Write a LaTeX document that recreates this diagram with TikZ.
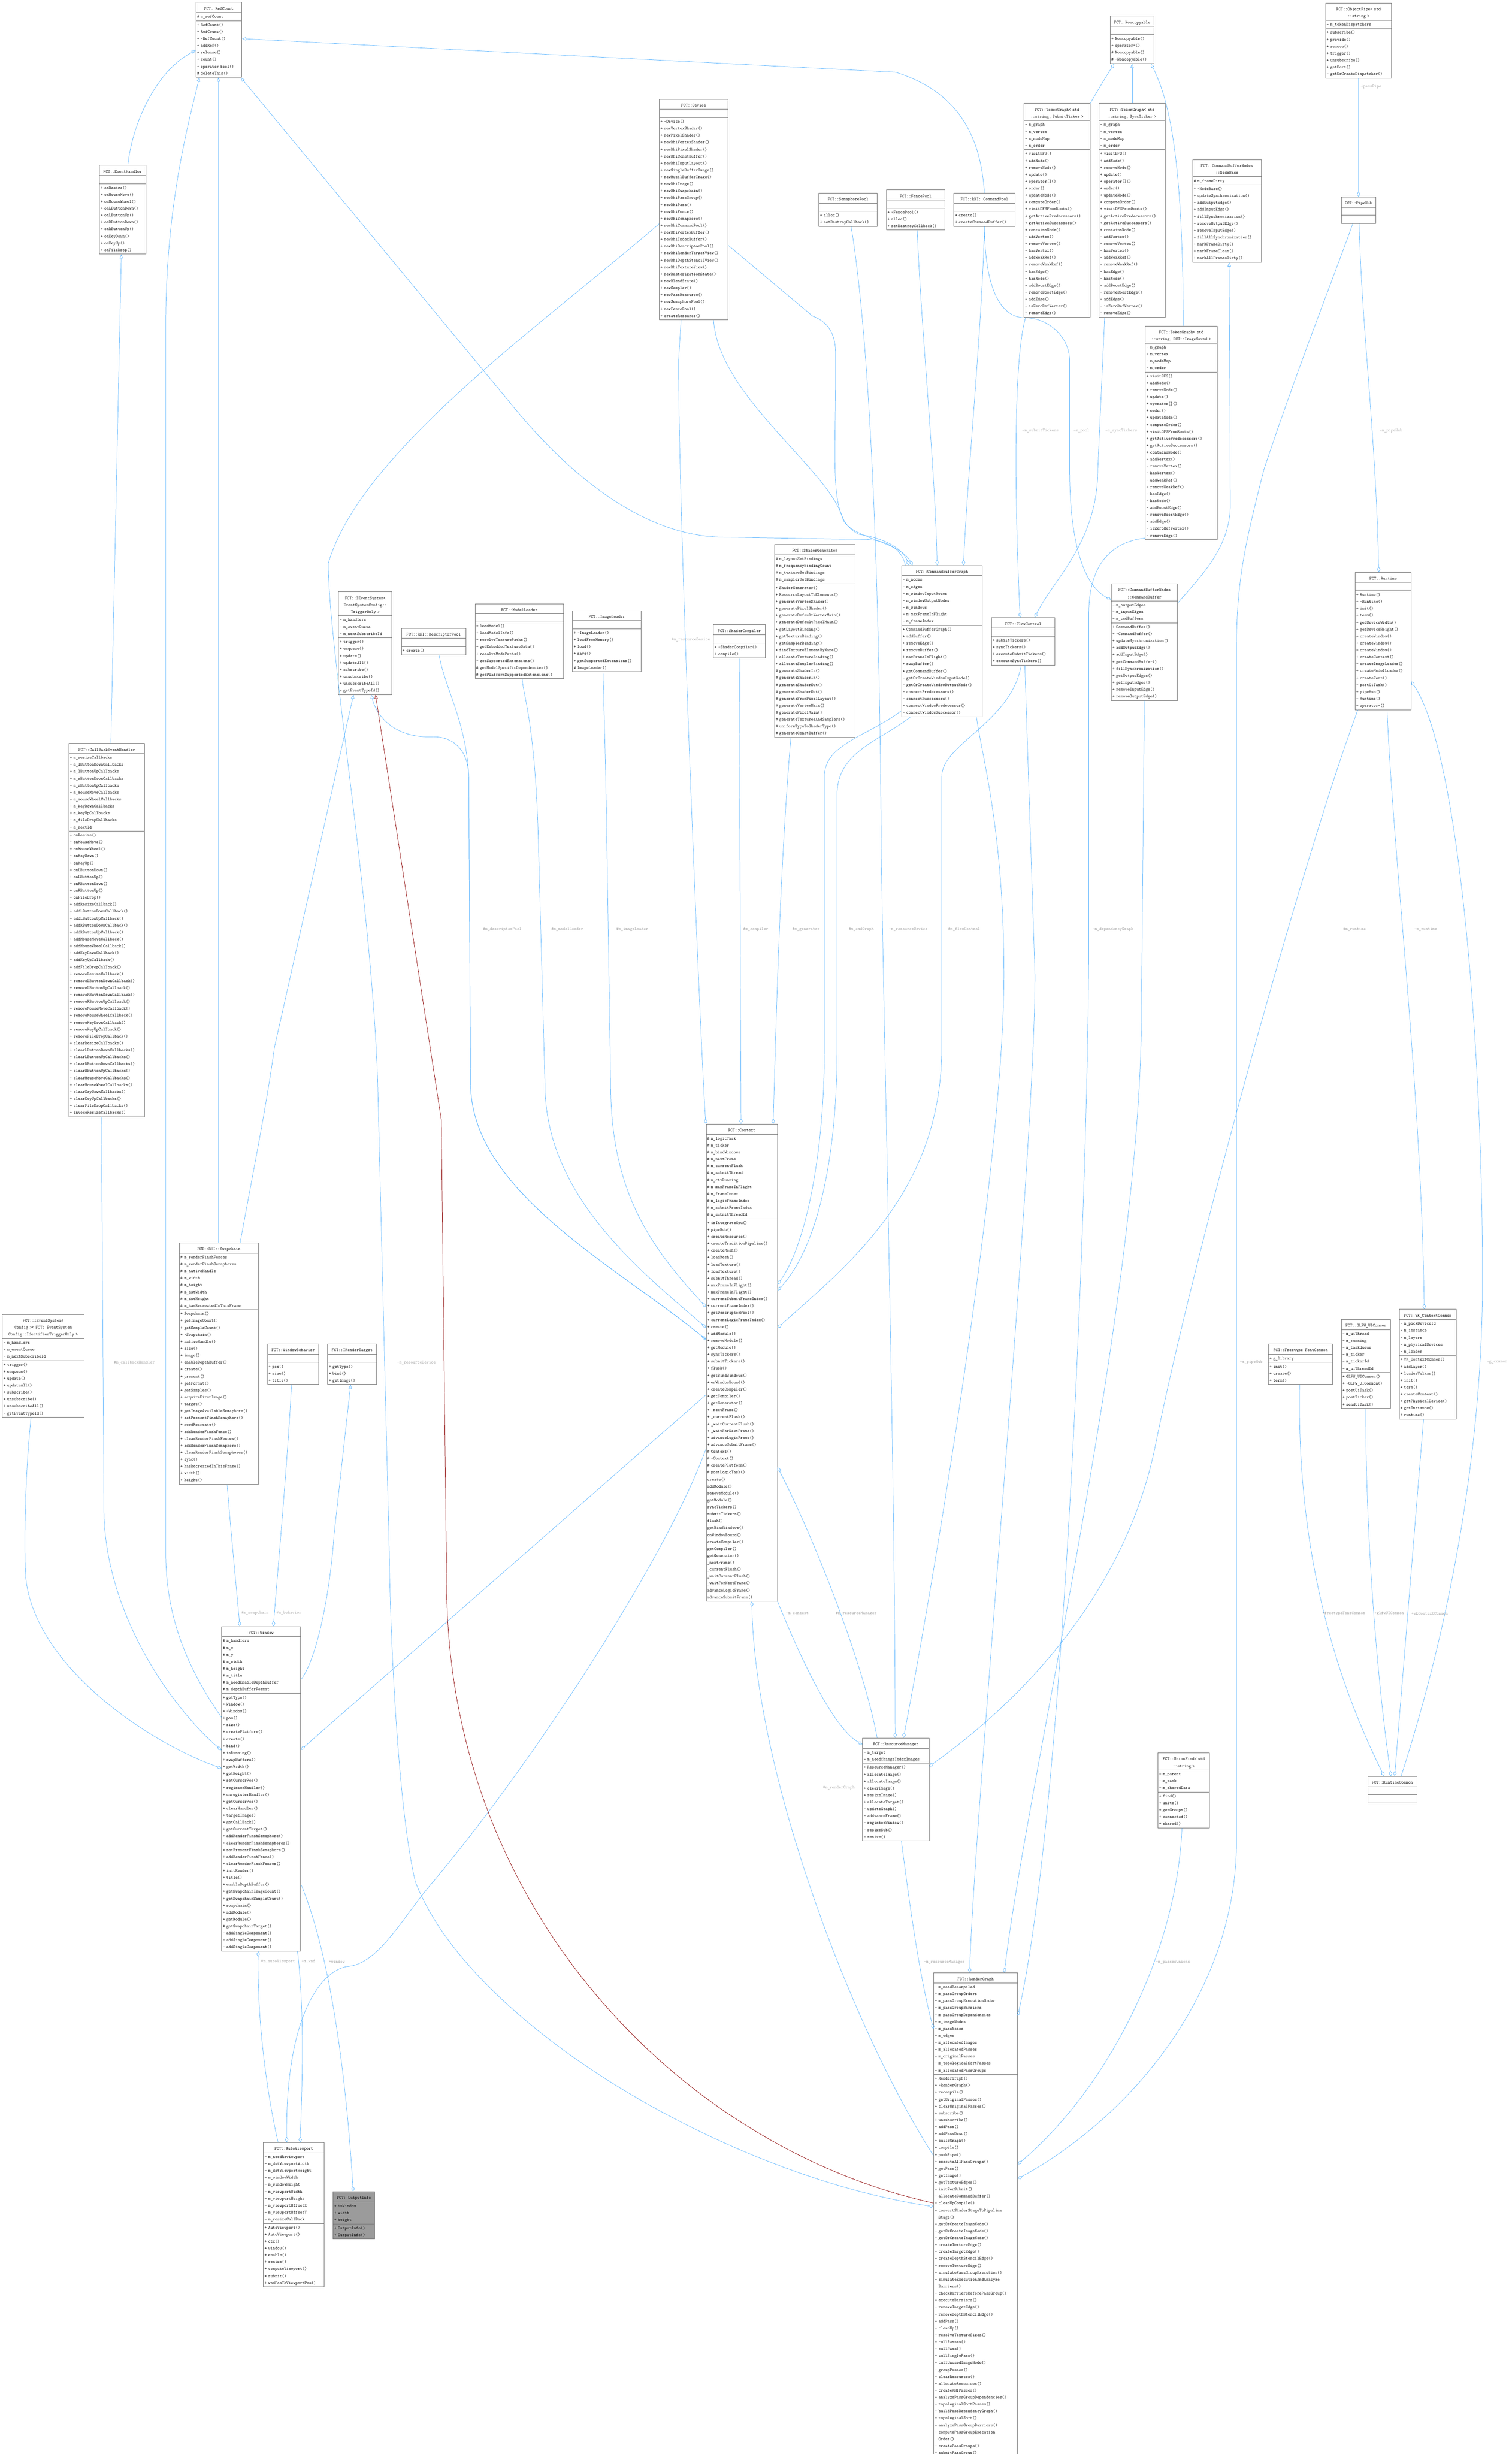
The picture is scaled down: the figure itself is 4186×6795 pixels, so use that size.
\documentclass[tikz,border=0pt]{standalone}
\usepackage{fontspec}
\usetikzlibrary{shapes.multipart,arrows.meta}
\definecolor{edgeblue}{HTML}{63B8FF}
\definecolor{boxgray}{HTML}{7A7A7A}
\definecolor{labelgray}{HTML}{A0A0A0}
\definecolor{privred}{HTML}{8B0000}
\definecolor{focusgray}{HTML}{9B9B9B}
\newcommand{\rowfont}{\fontsize{12.2}{19.2}\selectfont\ttfamily}
\newcommand{\rows}[1]{\raggedright\strut#1\strut}
\newcommand{\ttl}[1]{\par\hbox to \hsize{\hfil\strut#1\hfil}}
\newcommand{\tld}{\textasciitilde}
\newcommand{\tgattrs}{\rows{- m\_graph\\- m\_vertex\\- m\_nodeMap\\- m\_order}}
\newcommand{\tgmeths}{\rows{+ visitBFS()\\+ addNode()\\+ removeNode()\\+ update()\\+ operator[]()\\+ order()\\+ updateNode()\\+ computeOrder()\\+ visitDFSFromRoots()\\+ getActivePredecessors()\\+ getActiveSuccessors()\\+ containsNode()\\- addVertex()\\- removeVertex()\\- hasVertex()\\- addWeakRef()\\- removeWeakRef()\\- hasEdge()\\- hasNode()\\- addBoostEdge()\\- removeBoostEdge()\\- addEdge()\\- isZeroRefVertex()\\- removeEdge()}}
\begin{document}
\begin{tikzpicture}[x=1pt, y=-1pt, line join=round,
    cls/.style={rectangle split, rectangle split parts=3,
      draw=boxgray, line width=1.3pt, fill=white, anchor=north west, inner xsep=3pt, inner ysep=1pt, font=\rowfont},
    focus/.style={cls, fill=focusgray},
    con/.style={draw=edgeblue, line width=1pt},
    inh/.style={con, -{Triangle[open, length=11pt, width=9pt]}},
    agg/.style={con, {Diamond[open, length=15pt, width=9pt]}-},
    priv/.style={draw=privred, line width=1pt, -{Triangle[open, length=11pt, width=9pt]}},
    lbl/.style={font=\rowfont, text=labelgray, inner sep=0pt}]
\useasboundingbox (0,0) rectangle (4186,6795);

% classes
\node[cls, text width=121pt] (refcount) at (542,6) {\ttl{FCT::RefCount}\nodepart{two}\rows{\# m\_refCount}\nodepart{three}\rows{+ RefCount()\\+ RefCount()\\+ \tld RefCount()\\+ addRef()\\+ release()\\+ count()\\+ operator bool()\\\# deleteThis()}};
\node[cls, text width=122pt] (evthandler) at (275,457) {\ttl{FCT::EventHandler}\nodepart{two}\rows{}\nodepart{three}\rows{+ onResize()\\+ onMouseMove()\\+ onMouseWheel()\\+ onLButtonDown()\\+ onLButtonUp()\\+ onRButtonDown()\\+ onRButtonUp()\\+ onKeyDown()\\+ onKeyUp()\\+ onFileDrop()}};
\node[cls, text width=204pt] (callback) at (190,2058) {\ttl{FCT::CallBackEventHandler}\nodepart{two}\rows{- m\_resizeCallbacks\\- m\_lButtonDownCallbacks\\- m\_lButtonUpCallbacks\\- m\_rButtonDownCallbacks\\- m\_rButtonUpCallbacks\\- m\_mouseMoveCallbacks\\- m\_mouseWheelCallbacks\\- m\_keyDownCallbacks\\- m\_keyUpCallbacks\\- m\_fileDropCallbacks\\- m\_nextId}\nodepart{three}\rows{+ onResize()\\+ onMouseMove()\\+ onMouseWheel()\\+ onKeyDown()\\+ onKeyUp()\\+ onLButtonDown()\\+ onLButtonUp()\\+ onRButtonDown()\\+ onRButtonUp()\\+ onFileDrop()\\+ addResizeCallback()\\+ addLButtonDownCallback()\\+ addLButtonUpCallback()\\+ addRButtonDownCallback()\\+ addRButtonUpCallback()\\+ addMouseMoveCallback()\\+ addMouseWheelCallback()\\+ addKeyDownCallback()\\+ addKeyUpCallback()\\+ addFileDropCallback()\\+ removeResizeCallback()\\+ removeLButtonDownCallback()\\+ removeLButtonUpCallback()\\+ removeRButtonDownCallback()\\+ removeRButtonUpCallback()\\+ removeMouseMoveCallback()\\+ removeMouseWheelCallback()\\+ removeKeyDownCallback()\\+ removeKeyUpCallback()\\+ removeFileDropCallback()\\+ clearResizeCallbacks()\\+ clearLButtonDownCallbacks()\\+ clearLButtonUpCallbacks()\\+ clearRButtonDownCallbacks()\\+ clearRButtonUpCallbacks()\\+ clearMouseMoveCallbacks()\\+ clearMouseWheelCallbacks()\\+ clearKeyDownCallbacks()\\+ clearKeyUpCallbacks()\\+ clearFileDropCallbacks()\\+ invokeResizeCallbacks()}};
\node[cls, text width=142pt] (ievtTrig) at (937,1638) {\ttl{FCT::IEventSystem<}\ttl{EventSystemConfig::}\ttl{TriggerOnly >}\nodepart{two}\rows{- m\_handlers\\- m\_eventQueue\\- m\_nextSubscribeId}\nodepart{three}\rows{+ trigger()\\+ enqueue()\\+ update()\\+ updateAll()\\+ subscribe()\\+ unsubscribe()\\+ unsubscribeAll()\\- getEventTypeId()}};
\node[cls, text width=172pt] (descPool) at (1111,1739) {\ttl{FCT::RHI::DescriptorPool}\nodepart{two}\rows{}\nodepart{three}\rows{+ create()}};
\node[cls, text width=239pt] (modelLoader) at (1315,1671) {\ttl{FCT::ModelLoader}\nodepart{two}\rows{}\nodepart{three}\rows{+ loadModel()\\+ loadModelInfo()\\+ resolveTexturePaths()\\+ getEmbeddedTextureData()\\+ resolveModePaths()\\+ getSupportedExtensions()\\\# getModelSpecificDependencies()\\\# getPlatformSupportedExtensions()}};
\node[cls, text width=184pt] (imageLoader) at (1585,1690) {\ttl{FCT::ImageLoader}\nodepart{two}\rows{}\nodepart{three}\rows{+ \tld ImageLoader()\\+ loadFromMemory()\\+ load()\\+ save()\\+ getSupportedExtensions()\\\# ImageLoader()}};
\node[cls, text width=184pt] (device) at (1825,274) {\ttl{FCT::Device}\nodepart{two}\rows{}\nodepart{three}\rows{+ \tld Device()\\+ newVertexShader()\\+ newPixelShader()\\+ newRhiVertexShader()\\+ newRhiPixelShader()\\+ newRhiConstBuffer()\\+ newRhiInputLayout()\\+ newSingleBufferImage()\\+ newMutilBufferImage()\\+ newRhiImage()\\+ newRhiSwapchain()\\+ newRhiPassGroup()\\+ newRhiPass()\\+ newRhiFence()\\+ newRhiSemaphore()\\+ newRhiCommandPool()\\+ newRhiVertexBuffer()\\+ newRhiIndexBuffer()\\+ newRhiDescriptorPool()\\+ newRhiRenderTargetView()\\+ newRhiDepthStencilView()\\+ newRhiTextureView()\\+ newRasterizationState()\\+ newBlendState()\\+ newSampler()\\+ newPassResource()\\+ newSemaphorePool()\\+ newFencePool()\\+ createResource()}};
\node[cls, text width=156pt] (semPool) at (2267,534) {\ttl{FCT::SemaphorePool}\nodepart{two}\rows{}\nodepart{three}\rows{+ alloc()\\+ setDestroyCallback()}};
\node[cls, text width=156pt] (fencePool) at (2454,525) {\ttl{FCT::FencePool}\nodepart{two}\rows{}\nodepart{three}\rows{+ \tld FencePool()\\+ alloc()\\+ setDestroyCallback()}};
\node[cls, text width=163pt] (cmdPool) at (2641,534) {\ttl{FCT::RHI::CommandPool}\nodepart{two}\rows{}\nodepart{three}\rows{+ create()\\+ createCommandBuffer()}};
\node[cls, text width=177pt] (tgSubmit) at (2835,286) {\ttl{FCT::TokenGraph< std}\ttl{::string, SubmitTicker >}\nodepart{two}\tgattrs\nodepart{three}\tgmeths};
\node[cls, text width=177pt] (tgSync) at (3043,286) {\ttl{FCT::TokenGraph< std}\ttl{::string, SyncTicker >}\nodepart{two}\tgattrs\nodepart{three}\tgmeths};
\node[cls, text width=193pt] (tgImage) at (3171,902) {\ttl{FCT::TokenGraph< std}\ttl{::string, FCT::ImageSaved >}\nodepart{two}\tgattrs\nodepart{three}\tgmeths};
\node[cls, text width=115pt] (noncopy) at (3074,44) {\ttl{FCT::Noncopyable}\nodepart{two}\rows{}\nodepart{three}\rows{+ Noncopyable()\\+ operator=()\\\# Noncopyable()\\\# \tld Noncopyable()}};
\node[cls, text width=184pt] (nodeBase) at (3302,441) {\ttl{FCT::CommandBufferNodes}\ttl{::NodeBase}\nodepart{two}\rows{\# m\_frameDirty}\nodepart{three}\rows{+ \tld NodeBase()\\+ updateSynchronization()\\+ addOutputEdge()\\+ addInputEdge()\\+ fillSynchronization()\\+ removeOutputEdge()\\+ removeInputEdge()\\+ fillAllSynchronization()\\+ markFrameDirty()\\+ markFrameClean()\\+ markAllFramesDirty()}};
\node[cls, text width=177pt] (objPipe) at (3670,8) {\ttl{FCT::ObjectPipe< std}\ttl{::string >}\nodepart{two}\rows{- m\_tokenDispatchers}\nodepart{three}\rows{+ subscribe()\\+ provide()\\+ remove()\\+ trigger()\\+ unsubscribe()\\+ getPort()\\- getOrCreateDispatcher()}};
\node[cls, text width=89pt] (pipeHub) at (3714,545) {\ttl{FCT::PipeHub}\nodepart{two}\rows{}\nodepart{three}\rows{}};
\node[cls, text width=137pt] (shaderComp) at (1975,1729) {\ttl{FCT::ShaderCompiler}\nodepart{two}\rows{}\nodepart{three}\rows{+ \tld ShaderCompiler()\\+ compile()}};
\node[cls, text width=218pt] (shaderGen) at (2144,1507) {\ttl{FCT::ShaderGenerator}\nodepart{two}\rows{\# m\_layoutSetBindings\\\# m\_frequencyBindingCount\\\# m\_textureSetBindings\\\# m\_samplerSetBindings}\nodepart{three}\rows{+ ShaderGenerator()\\+ ResourceLayoutToElements()\\+ generateVertexShader()\\+ generatePixelShader()\\+ generateDefaultVertexMain()\\+ generateDefaultPixelMain()\\+ getLayoutBinding()\\+ getTextureBinding()\\+ getSamplerBinding()\\+ findTextureElementByName()\\+ allocateTextureBinding()\\+ allocateSamplerBinding()\\\# generateShaderIn()\\\# generateShaderIn()\\\# generateShaderOut()\\\# generateShaderOut()\\\# generateFromPixelLayout()\\\# generateVertexMain()\\\# generatePixelMain()\\\# generateTexturesAndSamplers()\\\# uniformTypeToShaderType()\\\# generateConstBuffer()}};
\node[cls, text width=218pt] (cmdGraph) at (2496,1565) {\ttl{FCT::CommandBufferGraph}\nodepart{two}\rows{- m\_nodes\\- m\_edges\\- m\_windowInputNodes\\- m\_windowOutputNodes\\- m\_windows\\- m\_maxFrameInFlight\\- m\_frameIndex}\nodepart{three}\rows{+ CommandBufferGraph()\\+ addBuffer()\\+ removeEdge()\\+ removeBuffer()\\+ maxFrameInFlight()\\+ swapBuffer()\\+ getCommandBuffer()\\- getOrCreateWindowInputNode()\\- getOrCreateWindowOutputNode()\\- connectPredecessors()\\- connectSuccessors()\\- connectWindowPredecessor()\\- connectWindowSuccessor()}};
\node[cls, text width=170pt] (flowCtrl) at (2745,1710) {\ttl{FCT::FlowControl}\nodepart{two}\rows{}\nodepart{three}\rows{+ submitTickers()\\+ syncTickers()\\+ executeSubmitTickers()\\+ executeSyncTickers()}};
\node[cls, text width=177pt] (cmdBuffer) at (3077,1616) {\ttl{FCT::CommandBufferNodes}\ttl{::CommandBuffer}\nodepart{two}\rows{- m\_outputEdges\\- m\_inputEdges\\- m\_cmdBuffers}\nodepart{three}\rows{+ CommandBuffer()\\+ \tld CommandBuffer()\\+ updateSynchronization()\\+ addOutputEdge()\\+ addInputEdge()\\+ getCommandBuffer()\\+ fillSynchronization()\\+ getOutputEdges()\\+ getInputEdges()\\+ removeInputEdge()\\+ removeOutputEdge()}};
\node[cls, text width=149pt] (runtime) at (3752,1584) {\ttl{FCT::Runtime}\nodepart{two}\rows{}\nodepart{three}\rows{+ Runtime()\\+ \tld Runtime()\\+ init()\\+ term()\\+ getDeviceWidth()\\+ getDeviceHeight()\\+ createWindow()\\+ createWindow()\\+ createWindow()\\+ createContext()\\+ createImageLoader()\\+ createModelLoader()\\+ createFont()\\+ postUiTask()\\+ pipeHub()\\- Runtime()\\- operator=()}};
\node[cls, text width=191pt] (context) at (1955,3112) {\ttl{FCT::Context}\nodepart{two}\rows{\# m\_logicTask\\\# m\_ticker\\\# m\_bindWindows\\\# m\_nextFrame\\\# m\_currentFlush\\\# m\_submitThread\\\# m\_ctxRunning\\\# m\_maxFrameInFlight\\\# m\_frameIndex\\\# m\_logicFrameIndex\\\# m\_submitFrameIndex\\\# m\_submitThreadId}\nodepart{three}\rows{+ isIntegrateGpu()\\+ pipeHub()\\+ createResource()\\+ createTraditionPipeline()\\+ createMesh()\\+ loadMesh()\\+ loadTexture()\\+ loadTexture()\\+ submitThread()\\+ maxFrameInFlight()\\+ maxFrameInFlight()\\+ currentSubmitFrameIndex()\\+ currentFrameIndex()\\+ getDescriptorPool()\\+ currentLogicFrameIndex()\\+ create()\\+ addModule()\\+ removeModule()\\+ getModule()\\+ syncTickers()\\+ submitTickers()\\+ flush()\\+ getBindWindows()\\+ onWindowBound()\\+ createCompiler()\\+ getCompiler()\\+ getGenerator()\\+ \_nextFrame()\\+ \_currentFlush()\\+ \_waitCurrentFlush()\\+ \_waitForNextFrame()\\+ advanceLogicFrame()\\+ advanceSubmitFrame()\\\# Context()\\\# \tld Context()\\\# createPlatform()\\\# postLogicTask()\\* create()\\* addModule()\\* removeModule()\\* getModule()\\* syncTickers()\\* submitTickers()\\* flush()\\* getBindWindows()\\* onWindowBound()\\* createCompiler()\\* getCompiler()\\* getGenerator()\\* \_nextFrame()\\* \_currentFlush()\\* \_waitCurrentFlush()\\* \_waitForNextFrame()\\* advanceLogicFrame()\\* advanceSubmitFrame()}};
\node[cls, text width=220pt] (ievtCfg) at (6,3639) {\ttl{FCT::IEventSystem<}\ttl{Config >< FCT::EventSystem}\ttl{Config::IdentifierTriggerOnly >}\nodepart{two}\rows{- m\_handlers\\- m\_eventQueue\\- m\_nextSubscribeId}\nodepart{three}\rows{+ trigger()\\+ enqueue()\\+ update()\\+ updateAll()\\+ subscribe()\\+ unsubscribe()\\+ unsubscribeAll()\\- getEventTypeId()}};
\node[cls, text width=213pt] (swapchain) at (496,3441) {\ttl{FCT::RHI::Swapchain}\nodepart{two}\rows{\# m\_renderFinshFences\\\# m\_renderFinshSemaphores\\\# m\_nativeHandle\\\# m\_width\\\# m\_height\\\# m\_dstWidth\\\# m\_dstHeight\\\# m\_hasRecreatedInThisFrame}\nodepart{three}\rows{+ Swapchain()\\+ getImageCount()\\+ getSampleCount()\\+ \tld Swapchain()\\+ nativeHandle()\\+ size()\\+ image()\\+ enableDepthBuffer()\\+ create()\\+ present()\\+ getFormat()\\+ getSamples()\\+ acquireFirstImage()\\+ target()\\+ getImageAvailableSemaphore()\\+ setPresentFinshSemaphore()\\+ needRecreate()\\+ addRenderFinshFence()\\+ clearRenderFinshFences()\\+ addRenderFinshSemaphore()\\+ clearRenderFinshSemaphores()\\+ sync()\\+ hasRecreatedInThisFrame()\\+ width()\\+ height()}};
\node[cls, text width=136pt] (wndBehavior) at (740,3721) {\ttl{FCT::WindowBehavior}\nodepart{two}\rows{}\nodepart{three}\rows{+ pos()\\+ size()\\+ title()}};
\node[cls, text width=129pt] (renderTarget) at (907,3721) {\ttl{FCT::IRenderTarget}\nodepart{two}\rows{}\nodepart{three}\rows{+ getType()\\+ bind()\\+ getImage()}};
\node[cls, text width=213pt] (window) at (613,4503) {\ttl{FCT::Window}\nodepart{two}\rows{\# m\_handlers\\\# m\_x\\\# m\_y\\\# m\_width\\\# m\_height\\\# m\_title\\\# m\_needEnableDepthBuffer\\\# m\_depthBufferFormat}\nodepart{three}\rows{+ getType()\\+ Window()\\+ \tld Window()\\+ pos()\\+ size()\\+ createPlatform()\\+ create()\\+ bind()\\+ isRunning()\\+ swapBuffers()\\+ getWidth()\\+ getHeight()\\+ setCursorPos()\\+ registerHandler()\\+ unregisterHandler()\\+ getCursorPos()\\+ clearHandler()\\+ targetImage()\\+ getCallBack()\\+ getCurrentTarget()\\+ addRenderFinshSemaphore()\\+ clearRenderFinshSemaphores()\\+ setPresentFinshSemaphore()\\+ addRenderFinshFence()\\+ clearRenderFinshFences()\\+ initRender()\\+ title()\\+ enableDepthBuffer()\\+ getSwapchainImageCount()\\+ getSwapchainSampleCount()\\+ swapchain()\\+ addModule()\\+ getModule()\\\# getSwapchainTarget()\\- addSingleComponent()\\- addSingleComponent()\\- addSingleComponent()}};
\node[cls, text width=162pt] (autoViewport) at (729,5932) {\ttl{FCT::AutoViewport}\nodepart{two}\rows{- m\_needReviewport\\- m\_dstViewportWidth\\- m\_dstViewportHeight\\- m\_windowWidth\\- m\_windowHeight\\- m\_viewportWidth\\- m\_viewportHeight\\- m\_viewportOffsetX\\- m\_viewportOffsetY\\- m\_resizeCallBack}\nodepart{three}\rows{+ AutoViewport()\\+ AutoViewport()\\+ ctx()\\+ window()\\+ enable()\\+ resize()\\+ computeViewport()\\+ submit()\\+ wndPosToViewportPos()}};
\node[focus, text width=109pt] (outputInfo) at (922,6068) {\ttl{FCT::OutputInfo}\nodepart{two}\rows{+ isWindow\\+ width\\+ height}\nodepart{three}\rows{+ OutputInfo()\\+ OutputInfo()}};
\node[cls, text width=172pt] (freetype) at (3512,3721) {\ttl{FCT::Freetype\_FontCommon}\nodepart{two}\rows{+ g\_library}\nodepart{three}\rows{+ init()\\+ create()\\+ term()}};
\node[cls, text width=130pt] (glfwUI) at (3714,3653) {\ttl{FCT::GLFW\_UICommon}\nodepart{two}\rows{- m\_uiThread\\- m\_running\\- m\_taskQueue\\- m\_ticker\\- m\_tickerId\\- m\_uiThreadId}\nodepart{three}\rows{+ GLFW\_UICommon()\\+ \tld GLFW\_UICommon()\\+ postUiTask()\\+ postTicker()\\+ sendUiTask()}};
\node[cls, text width=152pt] (vkCtx) at (3874,3625) {\ttl{FCT::VK\_ContextCommon}\nodepart{two}\rows{- m\_pickDeviceId\\- m\_instance\\- m\_layers\\- m\_physicalDevices\\- m\_loader}\nodepart{three}\rows{+ VK\_ContextCommon()\\+ addLayer()\\+ loaderVulkan()\\+ init()\\+ term()\\+ createContext()\\+ getPhysicalDevice()\\+ getInstance()\\+ runtime()}};
\node[cls, text width=178pt] (resMgr) at (2388,4812) {\ttl{FCT::ResourceManager}\nodepart{two}\rows{- m\_target\\- m\_needChangeIndexImages}\nodepart{three}\rows{+ ResourceManager()\\+ allocateImage()\\+ allocateImage()\\+ clearImage()\\+ resizeImage()\\+ allocateTarget()\\- updateGraph()\\- addvanceFrame()\\- registerWindow()\\- resizeSub()\\- resize()}};
\node[cls, text width=226pt] (renderGraph) at (2585,5462) {\ttl{FCT::RenderGraph}\nodepart{two}\rows{- m\_needRecompiled\\- m\_passGroupOrders\\- m\_passGroupExecutionOrder\\- m\_passGroupBarriers\\- m\_passGroupDependencies\\- m\_imageNodes\\- m\_passNodes\\- m\_edges\\- m\_allocatedImages\\- m\_allocatedPasses\\- m\_originalPasses\\- m\_topologicalSortPasses\\- m\_allocatedPassGroups}\nodepart{three}\rows{+ RenderGraph()\\+ \tld RenderGraph()\\+ recompile()\\+ getOriginalPasses()\\+ clearOriginalPasses()\\+ subscribe()\\+ unsubscribe()\\+ addPass()\\+ addPassDesc()\\+ buildGraph()\\+ compile()\\+ pushPipe()\\+ executeAllPassGroups()\\+ getPass()\\+ getImage()\\+ getTextureEdges()\\- initForSubmit()\\- allocateCommandBuffer()\\- cleanUpCompile()\\- convertShaderStageToPipeline\\\hphantom{- }Stage()\\- getOrCreateImageNode()\\- getOrCreateImageNode()\\- getOrCreateImageNode()\\- createTextureEdge()\\- createTargetEdge()\\- createDepthStencilEdge()\\- removeTextureEdge()\\- simulatePassGroupExecution()\\- simulateExecutionAndAnalyze\\\hphantom{- }Barriers()\\- checkBarriersBeforePassGroup()\\- executeBarriers()\\- removeTargetEdge()\\- removeDepthStencilEdge()\\- addPass()\\- cleanUp()\\- resolveTextureSizes()\\- cullPasses()\\- cullPass()\\- cullSinglePass()\\- cullUnusedImageNode()\\- groupPasses()\\- clearResources()\\- allocateResources()\\- createRHIPasses()\\- analyzePassGroupDependencies()\\- topologicalSortPasses()\\- buildPassDependencyGraph()\\- topologicalSort()\\- analyzePassGroupBarriers()\\- computePassGroupExecution\\\hphantom{- }Order()\\- createPassGroups()\\- submitPassGroup()}};
\node[cls, text width=137pt] (unionFind) at (3206,4853) {\ttl{FCT::UnionFind< std}\ttl{::string >}\nodepart{two}\rows{- m\_parent\\- m\_rank\\- m\_sharedData}\nodepart{three}\rows{+ find()\\+ unite()\\+ getGroups()\\+ connected()\\+ shared()}};
\node[cls, text width=130pt] (runtimeCommon) at (3787,4918) {\ttl{FCT::RuntimeCommon}\nodepart{two}\rows{}\nodepart{three}\rows{}};

% inheritance
\draw[inh] ([xshift=79pt]evthandler.north west) .. controls (368,330) and (440,190) .. ([yshift=-134pt]refcount.north west);
\draw[inh] ([xshift=117pt]callback.north west) -- ([xshift=61pt]evthandler.south west);
\draw[inh] ([yshift=-252pt]window.north west) .. controls (520,4620) and (459,4480) .. (459,4300) -- (459,900) .. controls (459,560) and (525,330) .. ([xshift=10pt]refcount.south west);
\draw[inh] ([xshift=109pt]swapchain.north west) -- ([xshift=63pt]refcount.south west);
\draw[inh] ([xshift=11pt]cmdGraph.north west) .. controls (2500,1530) and (2470,1497) .. (2400,1494) -- (1990,1487) .. controls (1800,1480) and (1600,1350) .. (1400,1100) -- ([xshift=125pt]refcount.south west);
\draw[inh] ([xshift=85pt]cmdPool.north west) .. controls (2715,360) and (2640,250) .. (2480,200) -- ([yshift=-101pt]refcount.north east);
\draw[inh] (tgSubmit.north east) .. controls (3040,250) and (3070,200) .. ([xshift=12pt]noncopy.south west);
\draw[inh] ([xshift=92pt]tgSync.north west) -- ([xshift=61pt]noncopy.south west);
\draw[inh] ([xshift=106pt]tgImage.north west) .. controls (3275,500) and (3250,300) .. ([xshift=113pt]noncopy.south west);
\draw[inh] ([yshift=-54pt]cmdBuffer.north east) .. controls (3320,1600) and (3406,1520) .. (3407,1400) -- ([xshift=102pt]nodeBase.south west);
\draw[inh] ([yshift=-148pt]window.north east) .. controls (880,4590) and (915,4400) .. (925,4250) -- ([xshift=64pt]renderTarget.south west);
\draw[inh] ([xshift=169pt]swapchain.north west) .. controls (700,3250) and (740,3050) .. (760,2900) -- ([xshift=42pt]ievtTrig.south west);
\draw[inh] ([yshift=-597pt]context.north west) .. controls (1700,3500) and (1305,3300) .. (1303,3000) -- (1298,2150) .. controls (1296,2070) and (1250,2040) .. (1200,2040) .. controls (1100,2045) and (1045,1990) .. ([xshift=91pt]ievtTrig.south west);
\draw[priv] ([yshift=-638pt]renderGraph.north west) .. controls (1900,5950) and (1245,5300) .. (1237,4400) -- (1222,3100) -- ([xshift=103pt]ievtTrig.south west);

% members
\draw[agg] ([yshift=-648pt]renderGraph.north west) .. controls (2000,6020) and (1300,5600) .. (1150,5210) .. controls (1100,5000) and (1080,4500) .. (1078,4300) -- (1046,3000) .. controls (1030,2500) and (910,1800) .. (909,1560) .. controls (1000,1250) and (1500,900) .. ([yshift=-346pt]device.north west);
\draw[agg] (context.north west) .. controls (1945,3000) and (1880,1500) .. (1879,1000) -- ([xshift=61pt]device.south west);
\draw[agg] ([xshift=21pt]cmdGraph.north west) .. controls (2500,1520) and (2450,1490) .. (2380,1480) .. controls (2290,1440) and (2316,1300) .. (2314,980) .. controls (2314,920) and (2290,890) .. (2250,875) -- ([yshift=-405pt]device.north east);
\draw[agg] ([xshift=31pt]cmdGraph.north west) .. controls (2490,1500) and (2360,1490) .. (2335,1440) .. controls (2300,1300) and (1990,1100) .. ([xshift=151pt]device.south west);
\draw[agg] ([xshift=99pt]cmdGraph.north west) .. controls (2590,1300) and (2550,900) .. ([xshift=86pt]fencePool.south west);
\draw[agg] ([xshift=172pt]cmdGraph.north west) .. controls (2680,1300) and (2720,900) .. ([xshift=85pt]cmdPool.south west);
\draw[agg] ([xshift=91pt]resMgr.north west) .. controls (2478,4000) and (2445,2800) .. (2440,2300) .. controls (2435,1600) and (2410,950) .. ([xshift=90pt]semPool.south west);
\draw[agg] ([yshift=-45pt]cmdBuffer.north west) .. controls (3000,1620) and (2962,1500) .. (2962,1300) -- (2962,1000) .. controls (2962,930) and (2900,880) .. (2840,880) .. controls (2770,880) and (2728,800) .. ([xshift=85pt]cmdPool.south west);
\draw[agg] ([xshift=80pt]flowCtrl.north west) .. controls (2810,1400) and (2805,1000) .. ([xshift=5pt]tgSubmit.south west);
\draw[agg] ([xshift=120pt]flowCtrl.north west) .. controls (2920,1600) and (3040,1500) .. (3040,1300) -- ([xshift=16pt]tgSync.south west);
\draw[agg] ([xshift=97pt]context.north west) -- ([xshift=72pt]shaderComp.south west);
\draw[agg] ([xshift=186pt]context.north west) .. controls (2150,2800) and (2160,2400) .. ([xshift=46pt]shaderGen.south west);
\draw[agg] ([yshift=-444pt]context.north east) .. controls (2230,3450) and (2283,3200) .. (2283,2900) -- (2283,2150) .. controls (2283,2060) and (2400,2040) .. ([yshift=-403pt]cmdGraph.north west);
\draw[agg] ([yshift=-461pt]context.north east) .. controls (2250,3470) and (2318,3250) .. (2318,2900) -- (2318,2200) .. controls (2318,2080) and (2440,2050) .. ([xshift=25pt]cmdGraph.south west);
\draw[agg] ([yshift=-565pt]context.north east) .. controls (2350,3500) and (2608,3300) .. (2608,2900) -- (2608,2150) .. controls (2608,2060) and (2800,2000) .. ([xshift=83pt]flowCtrl.south west);
\draw[agg] ([xshift=100pt]renderGraph.north west) .. controls (2700,5000) and (2866,3200) .. (2866,2700) -- ([xshift=93pt]flowCtrl.south west);
\draw[agg] ([xshift=114pt]resMgr.north west) .. controls (2600,4300) and (2780,3200) .. (2780,2700) .. controls (2780,2300) and (2720,2100) .. ([xshift=208pt]cmdGraph.south west);
\draw[agg] ([xshift=196pt]renderGraph.north west) .. controls (2850,4900) and (3160,3600) .. (3161,2800) -- ([xshift=92pt]cmdBuffer.south west);
\draw[agg] ([yshift=-120pt]renderGraph.north east) .. controls (2950,5000) and (3015,3200) .. (3015,2600) -- (3015,1700) .. controls (3015,1560) and (3080,1500) .. ([yshift=5pt]tgImage.south west);
\draw[agg] ([yshift=-531pt]renderGraph.north east) .. controls (3070,5780) and (3260,5400) .. ([xshift=67pt]unionFind.south west);
\draw[agg] ([yshift=-571pt]renderGraph.north east) .. controls (3150,5850) and (3424,5500) .. (3424,5100) -- (3424,1800) .. controls (3424,1600) and (3450,1500) .. (3500,1300) .. controls (3600,1000) and (3700,750) .. ([xshift=32pt]pipeHub.south west);
\draw[agg] ([xshift=66pt]runtime.north west) .. controls (3810,1200) and (3770,900) .. ([xshift=50pt]pipeHub.south west);
\draw[agg] ([xshift=48pt]pipeHub.north west) -- ([xshift=92pt]objPipe.south west);
\draw[agg] ([xshift=46pt]runtimeCommon.north west) .. controls (3700,4650) and (3590,4300) .. ([xshift=87pt]freetype.south west);
\draw[agg] ([xshift=65pt]runtimeCommon.north west) .. controls (3820,4700) and (3782,4300) .. ([xshift=68pt]glfwUI.south west);
\draw[agg] ([xshift=75pt]runtimeCommon.north west) -- ([xshift=68pt]vkCtx.south west);
\draw[agg] ([yshift=-303pt]runtime.north east) .. controls (4050,2100) and (4110,3000) .. (4105,3600) .. controls (4095,4200) and (3950,4700) .. ([xshift=93pt]runtimeCommon.north west);
\draw[agg] ([xshift=70pt]vkCtx.north west) .. controls (3935,3000) and (3860,2400) .. ([xshift=89pt]runtime.south west);
\draw[agg] ([yshift=-79pt]resMgr.north east) .. controls (2700,4800) and (3100,4500) .. (3200,4000) .. controls (3300,3500) and (3600,2400) .. ([xshift=8pt]runtime.south west);
\draw[agg] ([xshift=127pt]context.south west) .. controls (2090,4900) and (2350,5600) .. ([yshift=-507pt]renderGraph.north west);
\draw[agg] ([yshift=-18pt]resMgr.north west) .. controls (2300,4780) and (2200,4550) .. (context.south east);
\draw[agg] ([yshift=-951pt]context.north east) .. controls (2250,4250) and (2390,4600) .. ([xshift=41pt]resMgr.north west);
\draw[agg] ([yshift=-156pt]renderGraph.north west) .. controls (2540,5450) and (2510,5200) .. ([xshift=108pt]resMgr.south west);
\draw[agg] ([yshift=-342pt]window.north east) -- ([yshift=-750pt]context.north west);
\draw[agg] ([xshift=65pt]autoViewport.north west) .. controls (790,5600) and (880,5460) .. (961,5445) .. controls (1050,5440) and (1120,5300) .. (1200,5210) .. controls (1500,4850) and (1850,4300) .. ([yshift=-900pt]context.north west);
\draw[agg] ([xshift=102pt]window.south west) .. controls (712,5600) and (740,5800) .. ([xshift=41pt]autoViewport.north west);
\draw[agg] ([xshift=102pt]autoViewport.north west) .. controls (840,5700) and (840,5550) .. ([xshift=211pt]window.south west);
\draw[agg] ([xshift=56pt]outputInfo.north west) .. controls (965,5850) and (930,5450) .. ([yshift=-714pt]window.north east);
\draw[agg] ([xshift=51pt]window.north west) .. controls (655,4400) and (640,4250) .. ([xshift=133pt]swapchain.south west);
\draw[agg] ([xshift=144pt]window.north west) .. controls (765,4400) and (800,4000) .. ([xshift=67pt]wndBehavior.south west);
\draw[agg] ([yshift=-343pt]window.north west) .. controls (500,4750) and (300,4500) .. (288,4200) -- ([xshift=91pt]callback.south west);
\draw[agg] ([yshift=-393pt]window.north west) .. controls (400,4820) and (80,4600) .. (70,4350) .. controls (65,4150) and (80,3980) .. ([xshift=80pt]ievtCfg.south west);
\draw[agg] ([yshift=-597pt]context.north west) .. controls (1700,3500) and (1305,3300) .. (1303,3000) -- (1298,2150) .. controls (1292,2000) and (1230,1900) .. ([xshift=105pt]descPool.south west);
\draw[agg] ([yshift=-564pt]context.north west) .. controls (1750,3500) and (1509,3300) .. (1509,3000) -- (1490,2300) .. controls (1480,2000) and (1450,1930) .. ([xshift=131pt]modelLoader.south west);
\draw[agg] ([yshift=-507pt]context.north west) .. controls (1800,3450) and (1691,3300) .. (1691,3000) -- (1680,2300) .. controls (1675,2000) and (1670,1900) .. ([xshift=85pt]imageLoader.south west);

% member names
\node[lbl] (lPassPipe) at (3797,240) {+passPipe};
\node[lbl] (lPipeHubA) at (3852,1193) {-m\_pipeHub};
\node[lbl] (lSubmit) at (2881,1193) {-m\_submitTickers};
\node[lbl] (lPool) at (2995,1193) {-m\_pool};
\node[lbl] (lSync) at (3105,1193) {-m\_syncTickers};
\node[lbl] (lResDevA) at (1913,1772) {\#m\_resourceDevice};
\node[lbl] (lDescPool) at (1391,2574) {\#m\_descriptorPool};
\node[lbl] (lModel) at (1571,2574) {\#m\_modelLoader};
\node[lbl] (lImage) at (1751,2574) {\#m\_imageLoader};
\node[lbl] (lCompiler) at (2093,2574) {\#m\_compiler};
\node[lbl] (lGenerator) at (2232,2574) {\#m\_generator};
\node[lbl] (lCmdGraph) at (2385,2574) {\#m\_cmdGraph};
\node[lbl] (lResDevB) at (2515,2574) {-m\_resourceDevice};
\node[lbl] (lFlow) at (2670,2574) {\#m\_flowControl};
\node[lbl] (lDepGraph) at (3082,2574) {-m\_dependencyGraph};
\node[lbl] (lRuntimeA) at (3751,2574) {\#m\_runtime};
\node[lbl] (lRuntimeB) at (3948,2574) {-m\_runtime};
\node[lbl] (lCallback) at (372,3773) {\#m\_callbackHandler};
\node[lbl] (lResDevC) at (1153,3773) {-m\_resourceDevice};
\node[lbl] (lPipeHubB) at (3465,3772) {-m\_pipeHub};
\node[lbl] (lCommon) at (4146,3772) {-g\_common};
\node[lbl] (lFreetype) at (3721,4468) {+freetypeFontCommon};
\node[lbl] (lGlfw) at (3847,4468) {+glfwUICommon};
\node[lbl] (lVk) at (3959,4468) {+vkContextCommon};
\node[lbl] (lSwapchain) at (706,4467) {\#m\_swapchain};
\node[lbl] (lBehavior) at (800,4467) {\#m\_behavior};
\node[lbl] (lContext) at (2208,4468) {-m\_context};
\node[lbl] (lResMgr) at (2371,4468) {\#m\_resourceManager};
\node[lbl] (lRenderGraph) at (2323,4950) {\#m\_renderGraph};
\node[lbl] (lAutoView) at (770,5431) {\#m\_autoViewport};
\node[lbl] (lWnd) at (854,5431) {-m\_wnd};
\node[lbl] (lWindow) at (933,5431) {+window};
\node[lbl] (lResMgrB) at (2615,5433) {-m\_resourceManager};
\node[lbl] (lUnions) at (3248,5433) {-m\_passesUnions};
\end{tikzpicture}
\end{document}
